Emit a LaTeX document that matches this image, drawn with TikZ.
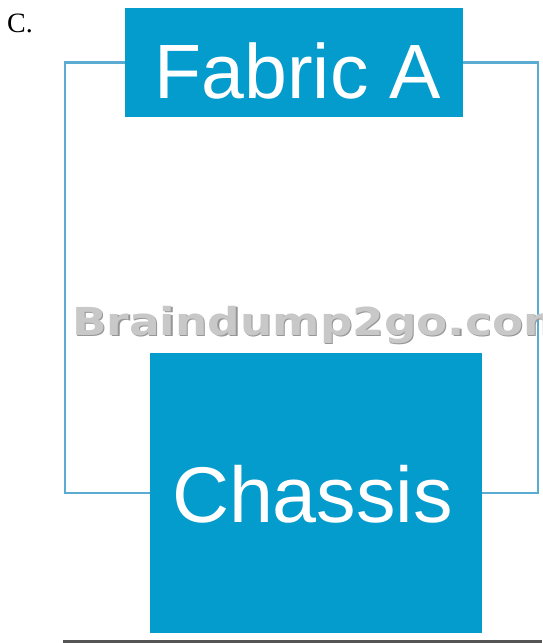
\documentclass[tikz,border=0pt]{standalone}
\usepackage{fontspec}
\setmainfont{Liberation Sans}
\newfontfamily\serifC{Liberation Serif}
\newfontfamily\wmfont{DejaVu Sans}
\definecolor{cblue}{RGB}{4,155,205}
\definecolor{clink}{RGB}{90,172,210}
\definecolor{wmgray}{RGB}{200,200,200}
\definecolor{wmdark}{RGB}{150,150,150}
\definecolor{rulegray}{RGB}{85,85,85}
\tikzset{
  box/.style={fill=cblue, draw=none, inner sep=0pt},
  boxtext/.style={text=white, inner sep=0pt, font=\fontsize{77}{77}\selectfont},
  link/.style={draw=clink, line width=2.2pt, line join=miter},
  wm/.style={inner sep=0pt, anchor=base west, xscale=1.18, font=\wmfont\bfseries\fontsize{38.5}{38.5}\selectfont},
}
\begin{document}
\begin{tikzpicture}[x=1pt, y=-1pt]
\useasboundingbox (0,0) rectangle (542,643);
\fill[white] (0,0) rectangle (542,643);
\clip (0,0) rectangle (542,643);
% label
\node[inner sep=0pt, anchor=base west, font=\serifC\fontsize{28}{28}\selectfont] (lbl) at (7,32) {C.};
% boxes
\node[box, minimum width=338pt, minimum height=109pt] (fab) at (294,62.5) {};
\node[box, minimum width=332pt, minimum height=280pt] (chs) at (316,493) {};
% connectors
\coordinate (lt) at (65,62.5);
\coordinate (rt) at (538,62.5);
\draw[link] (fab.west) -- (lt) |- (chs.west);
\draw[link] (fab.east) -- (rt) |- (chs.east);
% texts
\node[boxtext] (fabt) at (298,71) {Fabric A};
\node[boxtext, font=\fontsize{79}{79}\selectfont] (chst) at (312.5,494.5) {Chassis};
% watermark
\node[wm, text=wmdark] (wm2) at (73.2,336.2) {Braindump2go.com};
\node[wm, text=wmgray] (wm) at (72,335) {Braindump2go.com};
% bottom rule
\coordinate (bl) at (63,641.5);
\coordinate (br) at (542,641.5);
\draw[draw=rulegray, line width=2.5pt] (bl) -- (br);
\end{tikzpicture}
\end{document}
